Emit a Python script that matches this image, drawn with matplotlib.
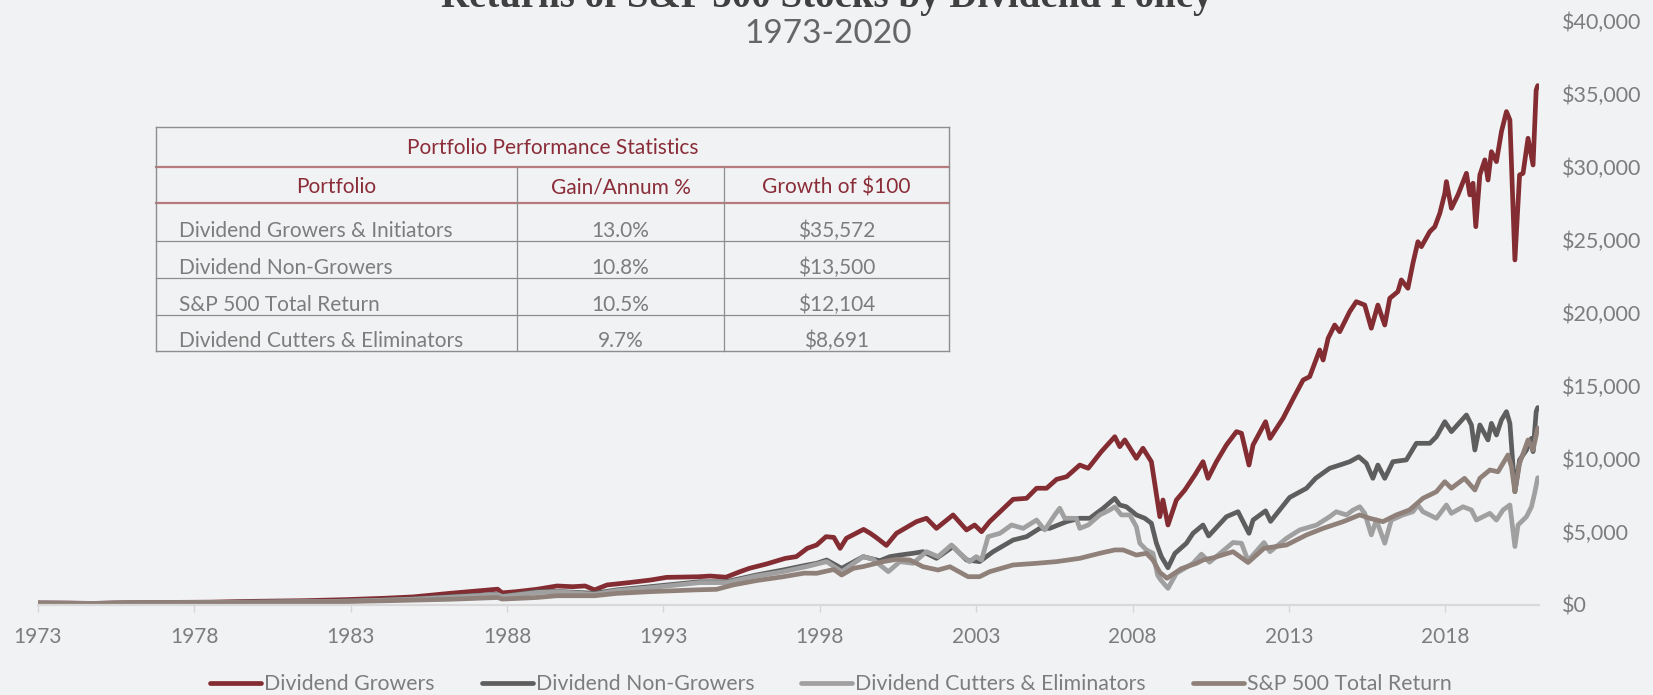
import matplotlib
matplotlib.use("Agg")
import matplotlib.pyplot as plt
from matplotlib.lines import Line2D
from matplotlib.ticker import FuncFormatter

plt.rcParams['font.family'] = ['Lato', 'DejaVu Sans']

# values (decimal year, growth of $100)
growers_years = [1973.0, 1974.0, 1974.75, 1975.5, 1977.0, 1978.5, 1980.0, 1981.5, 1982.8, 1984.0, 1985.0,
                 1986.2, 1986.8, 1987.7, 1987.85, 1988.3, 1988.95, 1989.6, 1990.1, 1990.5, 1990.8, 1991.2,
                 1991.9, 1992.6, 1993.1, 1994.1, 1994.5, 1995.0, 1995.45, 1995.75, 1996.3, 1996.9, 1997.25,
                 1997.6, 1997.9, 1998.2, 1998.45, 1998.65, 1998.85, 1999.4, 1999.6, 1999.8, 2000.13, 2000.45,
                 2001.09, 2001.41, 2001.73, 2002.26, 2002.69, 2002.95, 2003.17, 2003.43, 2004.18, 2004.61,
                 2004.93, 2005.25, 2005.57, 2005.89, 2006.31, 2006.58, 2007.0, 2007.43, 2007.59, 2007.75,
                 2008.12, 2008.33, 2008.6, 2008.87, 2008.97, 2009.13, 2009.4, 2009.67, 2009.99, 2010.25,
                 2010.41, 2010.68, 2011.0, 2011.32, 2011.48, 2011.72, 2011.85, 2012.25, 2012.39, 2012.81,
                 2013.13, 2013.45, 2013.66, 2013.98, 2014.09, 2014.25, 2014.46, 2014.62, 2014.94, 2015.15,
                 2015.42, 2015.63, 2015.84, 2016.06, 2016.22, 2016.48, 2016.59, 2016.8, 2016.96, 2017.12,
                 2017.23, 2017.5, 2017.66, 2017.82, 2017.98, 2018.03, 2018.19, 2018.4, 2018.67, 2018.78,
                 2018.88, 2018.97, 2019.1, 2019.26, 2019.36, 2019.47, 2019.63, 2019.79, 2019.95, 2020.06,
                 2020.22, 2020.37, 2020.48, 2020.64, 2020.8, 2020.9, 2020.95]
growers_vals = [100, 95, 75, 105, 140, 160, 220, 260, 330, 420, 520,
                770, 880, 1050, 800, 880, 1040, 1270, 1220, 1270, 1000, 1340,
                1500, 1680, 1860, 1900, 1950, 1870, 2250, 2480, 2780, 3165, 3280,
                3850, 4080, 4650, 4600, 3850, 4540, 5150, 4900, 4600, 4050, 4880,
                5680, 5910, 5220, 6140, 5110, 5450, 4990, 5680, 7210, 7280,
                7970, 7970, 8580, 8760, 9560, 9340, 10480, 11500, 10820, 11280,
                10020, 10710, 9790, 6020, 7165, 5450, 7165, 7850, 8880, 9790,
                8650, 9790, 10940, 11850, 11740, 9560, 10940, 12530, 11390, 12770,
                14100, 15390, 15620, 17450, 16760, 18250, 19160, 18700, 20080, 20760,
                20530, 18940, 20530, 19160, 20990, 21450, 22250, 21680, 23390, 24870,
                24530, 25560, 25900, 26820, 28190, 28990, 27160, 28080, 29560, 28080,
                28880, 25900, 29450, 30480, 29100, 31040, 30360, 32420, 33790, 33220,
                23620, 29450, 29560, 31960, 30130, 35270, 35572]

nongrowers_years = [1973.0, 1974.75, 1976.0, 1978.0, 1980.0, 1982.5, 1984.0, 1985.0, 1986.2, 1987.7, 1987.85,
                    1988.95, 1989.6, 1990.8, 1991.5, 1992.57, 1994.16, 1995.0, 1995.97, 1996.82, 1997.58,
                    1997.9, 1998.22, 1998.7, 1999.39, 1999.92, 2000.24, 2000.56, 2000.98, 2001.3, 2001.73,
                    2002.26, 2002.69, 2003.11, 2003.54, 2004.18, 2004.61, 2005.03, 2005.35, 2005.89, 2006.31,
                    2006.63, 2007.06, 2007.43, 2007.59, 2007.8, 2008.12, 2008.39, 2008.6, 2008.76, 2008.92,
                    2009.13, 2009.35, 2009.72, 2009.93, 2010.25, 2010.43, 2011.0, 2011.37, 2011.72, 2011.85,
                    2012.25, 2012.41, 2013.02, 2013.56, 2013.85, 2014.3, 2014.62, 2014.94, 2015.23, 2015.47,
                    2015.68, 2015.84, 2016.06, 2016.32, 2016.75, 2017.07, 2017.5, 2017.71, 2017.98, 2018.19,
                    2018.67, 2018.83, 2018.94, 2019.1, 2019.36, 2019.47, 2019.63, 2019.79, 2019.95, 2020.06,
                    2020.22, 2020.37, 2020.59, 2020.75, 2020.8, 2020.9, 2020.95]
nongrowers_vals = [100, 72, 110, 130, 170, 220, 300, 380, 535, 700, 560,
                   870, 900, 770, 1000, 1220, 1560, 1560, 2020, 2365, 2700,
                   2825, 3050, 2480, 3280, 3000, 3280, 3390, 3510, 3620, 3165,
                   3965, 3050, 2940, 3620, 4420, 4650, 5220, 5220, 5680, 5910,
                   5910, 6600, 7280, 6820, 6700, 6140, 5910, 5570, 4200, 3280,
                   2520, 3500, 4200, 4880, 5450, 4700, 6020, 6360, 4880, 5790,
                   6420, 5700, 7340, 7970, 8650, 9340, 9560, 9790, 10130, 9680,
                   8650, 9560, 8650, 9790, 9910, 11050, 11050, 11500, 12530, 11850,
                   12990, 12310, 10590, 12310, 11280, 12420, 11620, 12650, 13220, 12420,
                   7730, 9910, 10590, 11390, 10480, 13220, 13500]

cutters_years = [1973.0, 1974.75, 1976.0, 1978.0, 1980.0, 1982.5, 1984.0, 1985.0, 1986.2, 1987.7, 1987.85,
                 1988.95, 1989.6, 1990.8, 1991.5, 1992.57, 1994.16, 1995.0, 1995.97, 1996.82, 1997.58,
                 1998.22, 1998.7, 1999.39, 1999.7, 2000.19, 2000.56, 2000.98, 2001.41, 2001.78, 2002.21,
                 2002.47, 2002.79, 2003.0, 2003.17, 2003.38, 2003.76, 2004.13, 2004.5, 2004.93, 2005.19,
                 2005.51, 2005.67, 2005.83, 2006.2, 2006.31, 2006.58, 2006.95, 2007.27, 2007.43, 2007.64,
                 2007.91, 2008.12, 2008.23, 2008.44, 2008.65, 2008.8, 2008.9, 2009.13, 2009.4, 2009.93,
                 2010.2, 2010.46, 2011.21, 2011.48, 2011.69, 2012.2, 2012.39, 2012.92, 2013.34, 2013.88,
                 2014.3, 2014.51, 2014.84, 2015.05, 2015.26, 2015.42, 2015.63, 2015.79, 2016.06, 2016.27,
                 2016.64, 2016.96, 2017.12, 2017.28, 2017.71, 2018.03, 2018.19, 2018.56, 2018.83, 2018.99,
                 2019.2, 2019.42, 2019.63, 2019.84, 2020.06, 2020.22, 2020.32, 2020.59, 2020.75, 2020.85,
                 2020.95]
cutters_vals = [100, 70, 105, 125, 160, 210, 290, 360, 500, 680, 540,
                820, 880, 700, 950, 1150, 1500, 1500, 1950, 2250, 2600,
                2940, 2250, 3280, 3100, 2250, 2940, 2825, 3620, 3280, 4080,
                3510, 2940, 3280, 3050, 4650, 4880, 5450, 5220, 5790, 5110,
                6140, 6600, 5910, 5910, 5220, 5450, 6140, 6480, 6700, 6140,
                6140, 5330, 4200, 3740, 3510, 2000, 1680, 1110, 2140, 2825,
                3450, 2900, 4250, 4200, 3000, 4250, 3620, 4540, 5110, 5450,
                6020, 6360, 6140, 6480, 6700, 6250, 4770, 5790, 4200, 5790,
                6140, 6360, 6820, 6360, 5910, 6820, 6250, 6700, 6480, 5790,
                6020, 6250, 5790, 6480, 6820, 3970, 5450, 6020, 6700, 7620,
                8691]

sp500_years = [1973.0, 1974.75, 1976.0, 1978.0, 1980.0, 1982.5, 1984.0, 1985.0, 1986.2, 1987.7, 1987.85,
               1988.95, 1989.6, 1990.8, 1991.5, 1992.57, 1994.0, 1994.7, 1995.23, 1996.0, 1996.82,
               1997.5, 1997.9, 1998.45, 1998.7, 1999.07, 1999.39, 2000.03, 2000.45, 2000.88, 2001.3,
               2001.78, 2002.16, 2002.74, 2003.11, 2003.43, 2004.18, 2004.93, 2005.57, 2006.31, 2006.95,
               2007.43, 2007.7, 2008.12, 2008.44, 2008.65, 2008.87, 2009.1, 2009.55, 2010.04, 2010.25,
               2010.57, 2011.21, 2011.69, 2012.2, 2012.92, 2013.56, 2014.09, 2014.73, 2015.26, 2015.58,
               2016.0, 2016.43, 2016.85, 2017.28, 2017.71, 2017.98, 2018.19, 2018.61, 2018.94, 2019.1,
               2019.42, 2019.68, 2020.0, 2020.11, 2020.22, 2020.37, 2020.64, 2020.8, 2020.95]
sp500_vals = [100, 65, 110, 115, 150, 190, 250, 300, 360, 480, 370,
              480, 600, 600, 760, 880, 1000, 1040, 1340, 1650, 1900,
              2150, 2140, 2400, 2020, 2480, 2600, 2940, 3100, 3050, 2590,
              2365, 2590, 1906, 1906, 2250, 2710, 2825, 2940, 3165, 3510,
              3740, 3740, 3390, 3510, 3050, 2200, 1800, 2450, 2825, 3050,
              3200, 3620, 2880, 3850, 4080, 4770, 5220, 5680, 6140, 5910,
              5680, 6140, 6480, 7280, 7730, 8420, 7970, 8650, 7850, 8650,
              9220, 9100, 10250, 9450, 7730, 9680, 11280, 10590, 12104]

series_names = ['Dividend Growers', 'Dividend Non-Growers', 'Dividend Cutters & Eliminators', 'S&P 500 Total Return']
series_colors = ['#832d33', '#5e5e5e', '#a0a0a0', '#8f8179']

table_portfolios = ['Dividend Growers & Initiators', 'Dividend Non-Growers', 'S&P 500 Total Return',
                    'Dividend Cutters & Eliminators']
table_gain = ['13.0%', '10.8%', '10.5%', '9.7%']
table_growth = ['$35,572', '$13,500', '$12,104', '$8,691']

x_ticks = [1973, 1978, 1983, 1988, 1993, 1998, 2003, 2008, 2013, 2018]
y_ticks = [0, 5000, 10000, 15000, 20000, 25000, 30000, 35000, 40000]

BG = '#f1f2f4'
TXT = '#7d7d7d'
W, H = 1653, 695


def fx(x):
    return x / W


def fy(y):
    return 1 - y / H


fig = plt.figure(figsize=(W / 100, H / 100), dpi=100, facecolor=BG)
ax = fig.add_axes([fx(37.7), fy(604.5), fx(1539.3 - 37.7), (604.5 - 21) / H])
ax.set_facecolor(BG)

all_data = [(growers_years, growers_vals), (nongrowers_years, nongrowers_vals),
            (cutters_years, cutters_vals), (sp500_years, sp500_vals)]
for (yrs, vals), name, col in zip(all_data, series_names, series_colors):
    ax.plot(yrs, vals, color=col, lw=3.4, label=name, solid_joinstyle='round', solid_capstyle='round')

ax.set_xlim(1973, 2021)
ax.set_ylim(0, 40000)
ax.set_xticks(x_ticks)
ax.set_xticklabels([str(t) for t in x_ticks])
ax.set_yticks(y_ticks)
ax.yaxis.tick_right()
ax.yaxis.set_major_formatter(FuncFormatter(lambda v, p: '$' + format(int(v), ',')))
ax.tick_params(axis='y', length=0, pad=16, labelsize=15.5, labelcolor=TXT)
ax.tick_params(axis='x', length=5, width=1, color='#d6d6d6', pad=11, labelsize=15, labelcolor=TXT)
for s in ['top', 'left', 'right']:
    ax.spines[s].set_visible(False)
ax.spines['bottom'].set_color('#d9d9d9')
ax.spines['bottom'].set_linewidth(1.6)

# titles (top one runs off the top edge, same as the original)
fig.text(0.5, fy(7), 'Returns of S&P 500 Stocks by Dividend Policy', ha='center', va='baseline',
         fontsize=28, fontweight='bold', color='#404040', family=['Liberation Serif', 'DejaVu Serif'])
fig.text(fx(828), fy(43), '1973-2020', ha='center', va='baseline', fontsize=24, color='#666666')

# stats table
t_left, t_right = 156, 949
col_div = [517, 724]
row_y = [126.7, 166.7, 203, 240.7, 277.7, 315, 351]
grey_line = '#8e8e8e'
red_line = '#b77a7d'
red_text = '#8a2d38'


def hline(y, x0, x1, color, lw):
    fig.add_artist(Line2D([fx(x0), fx(x1)], [fy(y), fy(y)], color=color, lw=lw, transform=fig.transFigure))


def vline(x, y0, y1, color, lw):
    fig.add_artist(Line2D([fx(x), fx(x)], [fy(y0), fy(y1)], color=color, lw=lw, transform=fig.transFigure))


hline(row_y[0], t_left, t_right, grey_line, 1.0)
hline(row_y[1], t_left, t_right, red_line, 1.6)
hline(row_y[2], t_left, t_right, red_line, 1.6)
for y in row_y[3:6]:
    hline(y, t_left, t_right, grey_line, 0.9)
hline(row_y[6], t_left, t_right, grey_line, 1.0)
vline(t_left, row_y[0], row_y[6], grey_line, 1.0)
vline(t_right, row_y[0], row_y[6], grey_line, 1.0)
for x in col_div:
    vline(x, row_y[1], row_y[6], grey_line, 0.9)

fig.text(fx((t_left + t_right) / 2), fy(row_y[1] - 13), 'Portfolio Performance Statistics',
         ha='center', va='baseline', fontsize=15, color=red_text)
col_centers = [(t_left + col_div[0]) / 2, (col_div[0] + col_div[1]) / 2, (col_div[1] + t_right) / 2]
for cx, head in zip(col_centers, ['Portfolio', 'Gain/Annum %', 'Growth of $100']):
    fig.text(fx(cx), fy(row_y[2] - 10), head, ha='center', va='baseline', fontsize=15, color=red_text)
for i in range(len(table_portfolios)):
    yb = fy(row_y[3 + i] - 4)
    fig.text(fx(179), yb, table_portfolios[i], ha='left', va='baseline', fontsize=15, color=TXT)
    fig.text(fx(col_centers[1]), yb, table_gain[i], ha='center', va='baseline', fontsize=15, color=TXT)
    fig.text(fx(col_centers[2]), yb, table_growth[i], ha='center', va='baseline', fontsize=15, color=TXT)

leg = ax.legend(loc='center', bbox_to_anchor=(fx(831), fy(684)), bbox_transform=fig.transFigure,
                ncol=4, frameon=False, handlelength=2.4, handletextpad=0.15, columnspacing=2.2,
                prop={'size': 15.3})
for t in leg.get_texts():
    t.set_color(TXT)
for h in leg.get_lines():
    h.set_linewidth(3.4)

fig.savefig('out.png', dpi=100, facecolor=BG)
